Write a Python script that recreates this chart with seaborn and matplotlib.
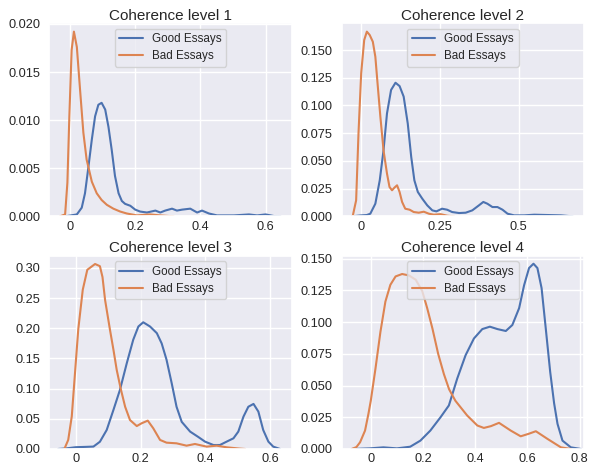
import numpy as np
import pandas as pd
import matplotlib
matplotlib.use("Agg")
import matplotlib.pyplot as plt
from matplotlib.ticker import MultipleLocator, FuncFormatter, FormatStrFormatter
import seaborn as sns

# ---------------- data ----------------
titles = ["Coherence level 1", "Coherence level 2", "Coherence level 3", "Coherence level 4"]
series_names = ["Good Essays", "Bad Essays"]

# Level 1
good1_x = [-0.015, 0.021, 0.036, 0.046, 0.056, 0.067, 0.077, 0.087, 0.097, 0.108, 0.118, 0.128,
           0.138, 0.149, 0.159, 0.169, 0.185, 0.200, 0.215, 0.236, 0.262, 0.277, 0.292, 0.313,
           0.328, 0.344, 0.369, 0.390, 0.405, 0.426, 0.451, 0.503, 0.549, 0.574, 0.600, 0.626, 0.646]
good1_y = [0.0, 0.0002, 0.0009, 0.0024, 0.0050, 0.0080, 0.0104, 0.0116, 0.0118, 0.0111, 0.0093, 0.0069,
           0.0042, 0.0024, 0.0016, 0.0013, 0.0011, 0.0007, 0.0005, 0.0004, 0.0006, 0.0004, 0.0006, 0.0008,
           0.0006, 0.0007, 0.0008, 0.0004, 0.0006, 0.0003, 0.0001, 0.0001, 0.0002, 0.0001, 0.0002, 0.00003, 0.0]
bad1_x = [-0.031, -0.015, -0.008, -0.002, 0.005, 0.012, 0.021, 0.031, 0.041, 0.051, 0.067, 0.082,
          0.097, 0.113, 0.133, 0.154, 0.174, 0.205, 0.246, 0.277, 0.318]
bad1_y = [0.0, 0.0002, 0.0035, 0.0104, 0.0173, 0.0192, 0.0176, 0.0131, 0.0087, 0.0059, 0.0036, 0.0024,
          0.0017, 0.0012, 0.0008, 0.0005, 0.0003, 0.0001, 0.0002, 0.0001, 0.0]

# Level 2
good2_x = [-0.030, -0.003, 0.018, 0.029, 0.045, 0.059, 0.071, 0.082, 0.095, 0.109, 0.122, 0.135,
           0.148, 0.159, 0.169, 0.180, 0.194, 0.210, 0.226, 0.239, 0.257, 0.273, 0.289, 0.311,
           0.332, 0.353, 0.374, 0.388, 0.401, 0.417, 0.433, 0.449, 0.465, 0.486, 0.518, 0.550,
           0.593, 0.635, 0.672]
good2_y = [0.0, 0.0008, 0.0012, 0.0024, 0.0114, 0.0325, 0.0596, 0.0928, 0.1140, 0.1205, 0.1175, 0.1080,
           0.0837, 0.0536, 0.0325, 0.0220, 0.0160, 0.0099, 0.0054, 0.0045, 0.0069, 0.0060, 0.0039, 0.0030,
           0.0033, 0.0054, 0.0099, 0.0130, 0.0114, 0.0084, 0.0084, 0.0060, 0.0024, 0.0009, 0.0009, 0.0015,
           0.0012, 0.0009, 0.0]
bad2_x = [-0.027, -0.016, -0.0085, 0.0, 0.0096, 0.018, 0.027, 0.037, 0.045, 0.052, 0.061, 0.071,
          0.082, 0.090, 0.098, 0.106, 0.114, 0.122, 0.130, 0.140, 0.154, 0.167, 0.183, 0.199,
          0.215, 0.231, 0.252, 0.273, 0.295]
bad2_y = [0.0, 0.0145, 0.0750, 0.1290, 0.1590, 0.1666, 0.1636, 0.1575, 0.1440, 0.1200, 0.0898, 0.0596,
          0.0386, 0.0265, 0.0235, 0.0260, 0.0280, 0.0220, 0.0130, 0.0069, 0.0060, 0.0039, 0.0033, 0.0042,
          0.0024, 0.0015, 0.0020, 0.0006, 0.0]

# Level 3
good3_x = [-0.055, -0.030, 0.000, 0.030, 0.054, 0.074, 0.095, 0.116, 0.136, 0.157, 0.177, 0.193,
           0.208, 0.229, 0.250, 0.265, 0.280, 0.296, 0.311, 0.327, 0.353, 0.378, 0.399, 0.425,
           0.445, 0.466, 0.487, 0.502, 0.518, 0.533, 0.549, 0.564, 0.579, 0.595, 0.610, 0.631]
good3_y = [0.0, 0.0010, 0.0030, 0.0035, 0.0040, 0.0120, 0.0315, 0.0650, 0.0980, 0.1420, 0.1810, 0.2030,
           0.2100, 0.2030, 0.1920, 0.1750, 0.1480, 0.1090, 0.0700, 0.0450, 0.0288, 0.0200, 0.0122, 0.0066,
           0.0066, 0.0122, 0.0177, 0.0288, 0.0537, 0.0700, 0.0747, 0.0620, 0.0315, 0.0122, 0.0039, 0.0]
bad3_x = [-0.036, -0.024, -0.013, -0.003, 0.007, 0.021, 0.035, 0.059, 0.074, 0.082, 0.090, 0.105,
          0.116, 0.126, 0.138, 0.152, 0.167, 0.188, 0.203, 0.222, 0.239, 0.260, 0.280, 0.311,
          0.342, 0.368, 0.404, 0.435, 0.466, 0.507, 0.523]
bad3_y = [0.0, 0.0150, 0.0540, 0.1260, 0.1980, 0.2640, 0.2970, 0.3066, 0.3030, 0.2850, 0.2470, 0.1980,
          0.1640, 0.1310, 0.1007, 0.0700, 0.0480, 0.0380, 0.0426, 0.0470, 0.0343, 0.0150, 0.0105, 0.0094,
          0.0055, 0.0083, 0.0039, 0.0055, 0.0028, 0.0006, 0.0]

# Level 4
good4_x = [-0.073, -0.003, 0.048, 0.100, 0.151, 0.190, 0.228, 0.267, 0.299, 0.331, 0.363, 0.395,
           0.427, 0.456, 0.485, 0.517, 0.542, 0.568, 0.587, 0.606, 0.623, 0.638, 0.654, 0.670,
           0.687, 0.702, 0.715, 0.734, 0.766, 0.805]
good4_y = [0.0, 0.0005, 0.0013, 0.0005, 0.0018, 0.0066, 0.0145, 0.0250, 0.0343, 0.0555, 0.0739, 0.0871,
           0.0945, 0.0964, 0.0945, 0.0930, 0.0977, 0.1110, 0.1290, 0.1426, 0.1460, 0.1426, 0.1268, 0.0950,
           0.0607, 0.0360, 0.0198, 0.0066, 0.0013, 0.0]
bad4_x = [-0.073, -0.055, -0.041, -0.022, -0.009, 0.000, 0.018, 0.037, 0.056, 0.075, 0.095, 0.120,
          0.146, 0.172, 0.197, 0.216, 0.236, 0.258, 0.280, 0.300, 0.324, 0.369, 0.408, 0.433,
          0.460, 0.491, 0.536, 0.574, 0.605, 0.632, 0.677, 0.728, 0.767]
bad4_y = [0.0, 0.0015, 0.0053, 0.0145, 0.0277, 0.0380, 0.0634, 0.0924, 0.1162, 0.1294, 0.1360, 0.1379,
          0.1368, 0.1334, 0.1245, 0.1110, 0.0950, 0.0750, 0.0590, 0.0470, 0.0380, 0.0264, 0.0185, 0.0166,
          0.0180, 0.0206, 0.0145, 0.0100, 0.0120, 0.0140, 0.0079, 0.0013, 0.0]

panels = [
    (good1_x, good1_y, bad1_x, bad1_y),
    (good2_x, good2_y, bad2_x, bad2_y),
    (good3_x, good3_y, bad3_x, bad3_y),
    (good4_x, good4_y, bad4_x, bad4_y),
]

# ---------------- style ----------------
sns.set_theme(style="darkgrid")
plt.rcParams["font.family"] = ["Liberation Sans", "DejaVu Sans"]
plt.rcParams["xtick.major.size"] = 0
plt.rcParams["ytick.major.size"] = 0
plt.rcParams["xtick.major.pad"] = 3.0
plt.rcParams["ytick.major.pad"] = 6.5

colors = sns.color_palette("deep")
good_color, bad_color = colors[0], colors[1]

xlims = [(-0.0635, 0.680), (-0.062, 0.708), (-0.0825, 0.667), (-0.1115, 0.8165)]
ylims = [(0, 0.0201), (0, 0.1744), (0, 0.3205), (0, 0.1524)]
xsteps = [0.2, 0.25, 0.2, 0.2]
ysteps = [0.005, 0.025, 0.05, 0.025]
yfmts = ["%.3f", "%.3f", "%.2f", "%.3f"]

fig, axes = plt.subplots(2, 2, figsize=(5.94, 4.70), dpi=100)
fig.subplots_adjust(left=0.083, right=0.9832, top=0.9511, bottom=0.0447,
                    wspace=0.2063, hspace=0.203)

gfmt = FuncFormatter(lambda v, p: "{:g}".format(round(v, 6)))

for ax, title, (gx, gy, bx, by), xl, yl, xs, ys, yf in zip(
        axes.flat, titles, panels, xlims, ylims, xsteps, ysteps, yfmts):
    df = pd.concat([
        pd.DataFrame({"x": gx, "y": gy, "kind": series_names[0]}),
        pd.DataFrame({"x": bx, "y": by, "kind": series_names[1]}),
    ], ignore_index=True)
    sns.lineplot(data=df, x="x", y="y", hue="kind", estimator=None, sort=False,
                 palette=[good_color, bad_color], linewidth=1.5, ax=ax)
    ax.set_xlim(*xl)
    ax.set_ylim(*yl)
    ax.xaxis.set_major_locator(MultipleLocator(xs))
    ax.yaxis.set_major_locator(MultipleLocator(ys))
    ax.xaxis.set_major_formatter(gfmt)
    ax.yaxis.set_major_formatter(FormatStrFormatter(yf))
    ax.set_xlabel("")
    ax.set_ylabel("")
    ax.tick_params(labelsize=9.2, colors="#262626")
    ax.set_title(title, fontsize=11, pad=2.5, color="#262626")
    ax.legend(loc="upper center", fontsize=8.4, title=None,
              labelspacing=0.4, borderpad=0.4, handlelength=2.0)

fig.savefig("out.png", dpi=100)
